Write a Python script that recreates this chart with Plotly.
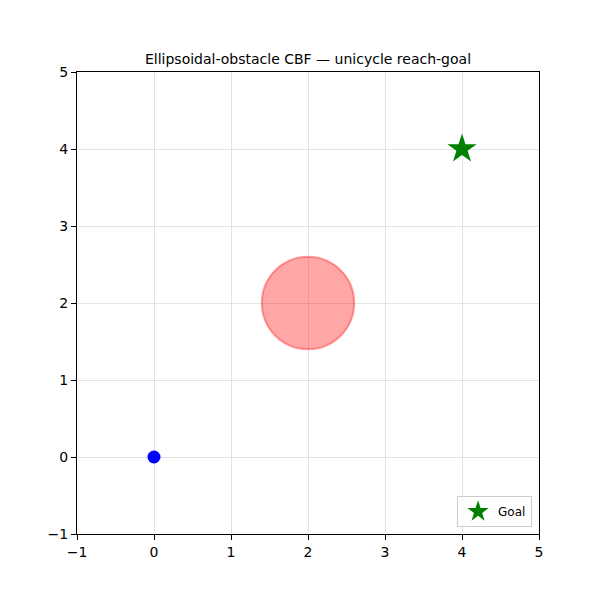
import plotly.graph_objects as go

# Data
start_x = [0.0]
start_y = [0.0]
goal_x = [4.0]
goal_y = [4.0]
obstacle_center = (2.0, 2.0)
obstacle_radius = 0.6
tick_vals = [-1, 0, 1, 2, 3, 4, 5]
tick_text = ["\u22121", "0", "1", "2", "3", "4", "5"]
title_text = "Ellipsoidal-obstacle CBF \u2014 unicycle reach-goal"

fig = go.Figure()

fig.add_trace(go.Scatter(
    x=start_x, y=start_y, mode="markers",
    marker=dict(color="blue", size=13, line=dict(width=0)),
    showlegend=False, hoverinfo="skip",
))
fig.add_trace(go.Scatter(
    x=goal_x, y=goal_y, mode="markers", name="Goal",
    marker=dict(symbol="star", color="green", size=22, line=dict(width=0)),
))

cx, cy = obstacle_center
r = obstacle_radius
fig.add_shape(
    type="circle", xref="x", yref="y",
    x0=cx - r, x1=cx + r, y0=cy - r, y1=cy + r,
    fillcolor="rgba(255,0,0,0.35)",
    line=dict(color="rgba(255,0,0,0.35)", width=2),
    layer="above",
)

axis_common = dict(
    range=[-1, 5], tickmode="array", tickvals=tick_vals, ticktext=tick_text,
    showgrid=True, gridcolor="rgba(176,176,176,0.35)", gridwidth=1,
    zeroline=False, showline=True, linecolor="black", linewidth=1, mirror=True,
    ticks="outside", ticklen=5, tickcolor="black", tickwidth=1,
    tickfont=dict(family="DejaVu Sans", size=14, color="black"),
)

fig.update_layout(
    width=600, height=600,
    margin=dict(l=77, r=61, t=72, b=66),
    paper_bgcolor="white", plot_bgcolor="white",
    title=dict(text=title_text, x=0.5, xanchor="center", xref="paper",
               y=1 - 59 / 600, yanchor="middle",
               font=dict(family="DejaVu Sans", size=14, color="black")),
    xaxis=dict(**axis_common),
    yaxis=dict(**axis_common, scaleanchor="x", scaleratio=1),
    legend=dict(x=0.985, y=0.015, xanchor="right", yanchor="bottom",
                bgcolor="rgba(255,255,255,0.8)", bordercolor="#cccccc", borderwidth=1,
                font=dict(family="DejaVu Sans", size=12, color="black")),
    showlegend=True,
)

fig.write_html("out.html")
